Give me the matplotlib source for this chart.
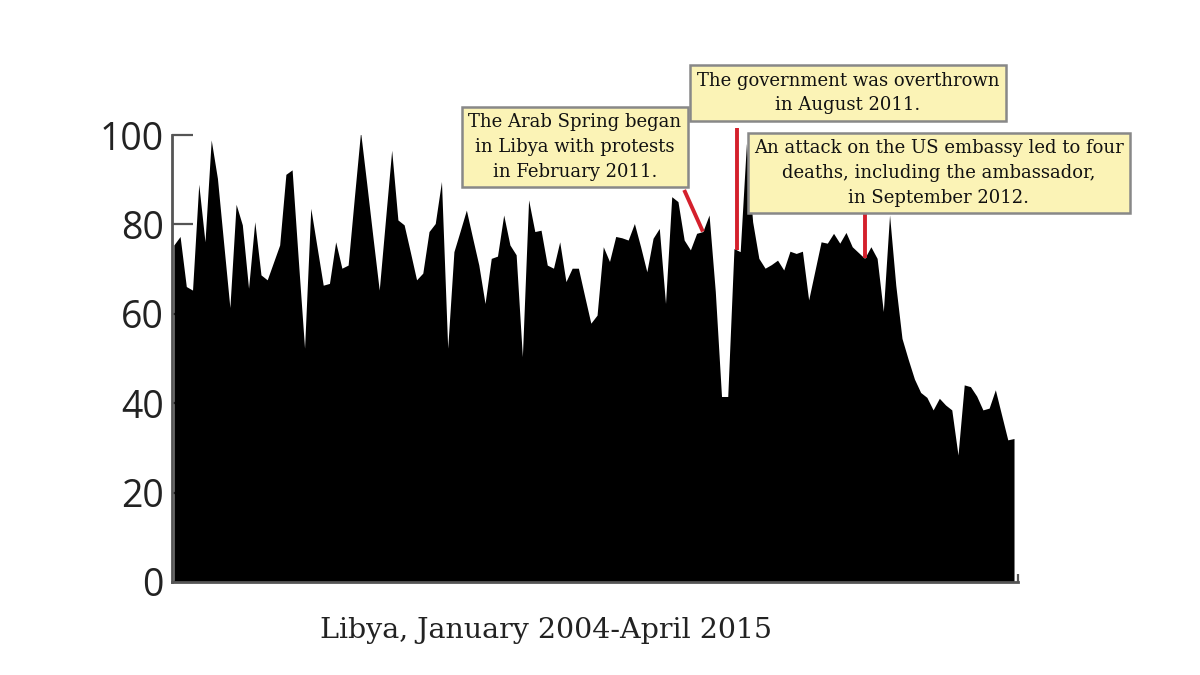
import matplotlib
matplotlib.use("Agg")
import matplotlib.pyplot as plt
import numpy as np

# monthly values, January 2004 - April 2015 (136 months)
values = [
    75.4, 77.3, 66.1, 65.3, 89.0, 76.1, 98.9, 90.3, 75.8, 61.4, 84.5, 79.9,
    65.7, 80.6, 68.7, 67.6, 71.5, 75.4, 91.2, 92.2, 72.0, 52.3, 83.6, 75.0,
    66.4, 66.8, 76.1, 70.2, 70.9, 86.0, 100.7, 89.0, 77.0, 65.3, 81.0, 96.6,
    81.0, 79.9, 73.8, 67.6, 69.1, 78.4, 80.2, 89.6, 52.3, 73.9, 78.5, 83.2,
    77.0, 70.9, 62.3, 72.4, 72.9, 82.1, 75.4, 73.2, 50.4, 85.5, 78.4, 78.7,
    70.9, 70.2, 76.1, 67.2, 70.2, 70.2, 64.0, 57.9, 59.7, 75.0, 71.7, 77.3,
    77.0, 76.5, 80.2, 75.0, 69.4, 76.9, 79.1, 62.3, 86.2, 85.1, 76.5, 74.3,
    78.0, 78.4, 82.1, 65.0, 41.5, 41.5, 74.6, 73.9, 98.1, 80.6, 72.4, 70.2,
    71.0, 72.0, 69.8, 74.0, 73.5, 74.0, 63.1, 69.6, 76.1, 75.8, 78.0, 75.8,
    78.2, 75.0, 73.7, 72.4, 75.0, 72.4, 60.5, 82.1, 66.4, 54.5, 49.8, 45.4,
    42.4, 41.3, 38.5, 41.1, 39.6, 38.5, 28.4, 44.1, 43.7, 41.6, 38.5, 38.9,
    43.0, 37.4, 31.8, 32.1,
]
months = np.arange(len(values))

yticks = [0, 20, 40, 60, 80, 100]
title = "Libya, January 2004-April 2015"

notes = [
    "The Arab Spring began\nin Libya with protests\nin February 2011.",
    "The government was overthrown\nin August 2011.",
    "An attack on the US embassy led to four\ndeaths, including the ambassador,\nin September 2012.",
]
# where each note points on the chart (month index, value)
note_x = [85, 90.5, 111]
note_y = [78.4, 74.3, 72.4]

red = "#d4202c"
spine_col = "#555555"

fig = plt.figure(figsize=(12, 6.75), dpi=100)
ax = fig.add_axes([172 / 1200, 1 - 582 / 675, (1018 - 172) / 1200, (582 - 135) / 675])

ax.fill_between(months, values, color="black", linewidth=0)
ax.set_xlim(-0.3, 135.64)
ax.set_ylim(0, 100)
ax.set_axisbelow(True)

for s in ["top", "right"]:
    ax.spines[s].set_visible(False)
for s in ["left", "bottom"]:
    ax.spines[s].set_color(spine_col)
    ax.spines[s].set_linewidth(2)

ax.set_yticks(yticks)
ax.set_yticklabels([str(t) for t in yticks], fontsize=27, family="Open Sans", color="#222222")
ax.tick_params(axis="y", direction="in", length=15, width=1.6, color=spine_col, pad=6)
ax.set_xticks([135.64])
ax.set_xticklabels([""])
ax.tick_params(axis="x", direction="in", length=6, width=1.6, color=spine_col)

fig.text(546 / 1200, 1 - 631 / 675, title, ha="center", va="center",
         fontsize=20.5, family="DejaVu Serif", color="#222222")

box = dict(boxstyle="square,pad=0.35", facecolor="#fbf3b6", edgecolor="#888888", linewidth=1.8)
box_pos = [(575, 147), (848, 93), (939, 173)]
for txt, (px, py) in zip(notes, box_pos):
    fig.text(px / 1200, 1 - py / 675, txt, ha="center", va="center", fontsize=13,
             family="DejaVu Serif", color="#111111", linespacing=1.5, bbox=box, zorder=5)

# red leader lines from the notes down to the series
line_top_x = [82.0, 90.5, 111]
line_top_y = [87.7, 101.5, 83.0]
for x0, y0, x1, y1 in zip(note_x, note_y, line_top_x, line_top_y):
    ax.plot([x0, x1], [y0, y1], color=red, linewidth=2.8, clip_on=False, zorder=4,
            solid_capstyle="butt")

fig.savefig("out.png", dpi=100)
